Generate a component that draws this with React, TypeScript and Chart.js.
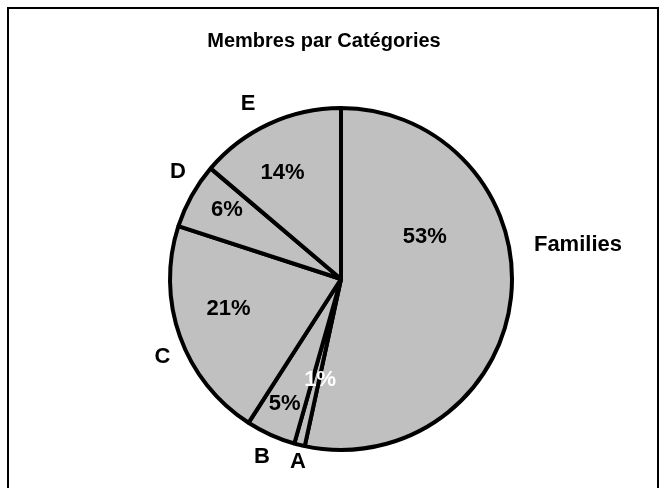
import React, { useEffect, useRef } from "react";
import { Chart, registerables } from "chart.js";

Chart.register(...registerables);

const chartTitle = "Membres par Catégories";
const categories = ["Families", "A", "B", "C", "D", "E"];
const values = [53.4, 1.0, 4.7, 20.9, 6.2, 13.8];

// label placement: [angle shift from slice middle (deg), radius fraction]
const insidePlacement: [number, number][] = [
  [-33, 0.55],
  [-2.3, 0.6],
  [0, 0.8],
  [4.7, 0.68],
  [2, 0.78],
  [-3.9, 0.71],
];
const outsidePlacement: [number, number][] = [
  [-14.3, 1.4],
  [-0.8, 1.1],
  [-0.4, 1.14],
  [-4.1, 1.14],
  [4.1, 1.14],
  [-3.1, 1.16],
];
const insideColors = ["#000", "#fff", "#000", "#000", "#000", "#000"];

const FONT = '"Liberation Sans", Arial, sans-serif';

const framePlugin = {
  id: "frameAndTitle",
  beforeDraw(chart: any) {
    const ctx = chart.ctx;
    ctx.save();
    ctx.fillStyle = "#fff";
    ctx.fillRect(0, 0, chart.width, chart.height);
    ctx.strokeStyle = "#000";
    ctx.lineWidth = 2;
    ctx.strokeRect(8, 8, 650, 600);
    ctx.fillStyle = "#000";
    ctx.font = `bold 20px ${FONT}`;
    ctx.textAlign = "center";
    ctx.textBaseline = "middle";
    ctx.fillText(chartTitle, 324, 41);
    ctx.restore();
  },
};

const labelPlugin = {
  id: "pieLabels",
  afterDatasetsDraw(chart: any) {
    const meta = chart.getDatasetMeta(0);
    const ctx = chart.ctx;
    const total = values.reduce((a, b) => a + b, 0);
    ctx.save();
    ctx.font = `bold 22px ${FONT}`;
    ctx.textAlign = "center";
    ctx.textBaseline = "middle";
    meta.data.forEach((arc: any, i: number) => {
      const { x, y, startAngle, endAngle, outerRadius } = arc.getProps(
        ["x", "y", "startAngle", "endAngle", "outerRadius"],
        true
      );
      const mid = (startAngle + endAngle) / 2;
      const [ia, ir] = insidePlacement[i];
      const a1 = mid + (ia * Math.PI) / 180;
      ctx.fillStyle = insideColors[i];
      ctx.fillText(
        Math.round((values[i] / total) * 100) + "%",
        x + Math.cos(a1) * outerRadius * ir,
        y + Math.sin(a1) * outerRadius * ir
      );
      const [oa, or] = outsidePlacement[i];
      const a2 = mid + (oa * Math.PI) / 180;
      ctx.fillStyle = "#000";
      ctx.fillText(
        categories[i],
        x + Math.cos(a2) * outerRadius * or,
        y + Math.sin(a2) * outerRadius * or
      );
    });
    ctx.restore();
  },
};

export default function App() {
  const ref = useRef<HTMLCanvasElement | null>(null);
  useEffect(() => {
    if (!ref.current) return;
    const chart = new Chart(ref.current, {
      type: "pie",
      data: {
        labels: categories,
        datasets: [
          {
            data: values,
            backgroundColor: "#C0C0C0",
            borderColor: "#000",
            borderWidth: 4,
          },
        ],
      },
      options: {
        responsive: false,
        animation: false,
        layout: { padding: { left: 168, right: 152, top: 106, bottom: 36 } },
        plugins: {
          legend: { display: false },
          tooltip: { enabled: false },
          title: { display: false },
        },
      },
      plugins: [framePlugin, labelPlugin],
    });
    return () => chart.destroy();
  }, []);
  return (
    <div style={{ position: "fixed", left: 0, top: 0, width: 666, height: 488, background: "#fff" }}>
      <canvas ref={ref} width={666} height={488} style={{ display: "block" }} />
    </div>
  );
}
